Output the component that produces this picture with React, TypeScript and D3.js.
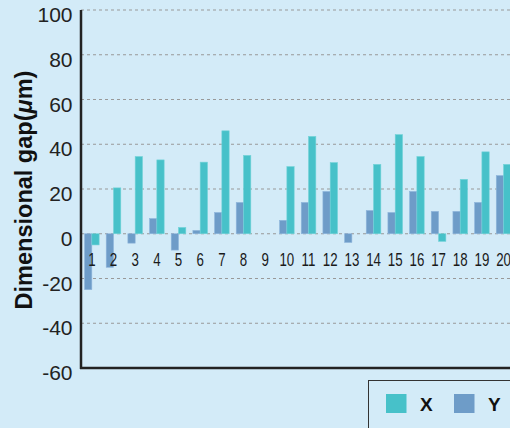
import React from "react";
import * as d3 from "d3";

// chart data
const categories = ["1","2","3","4","5","6","7","8","9","10","11","12","13","14","15","16","17","18","19","20"];
const xValues = [-5, 20.5, 34.5, 33, 2.8, 32, 46, 35, 0, 30, 43.5, 31.8, 0, 31, 44.3, 34.5, -3.4, 24.3, 36.6, 31];
const yValues = [-25, -15, -4.2, 6.8, -7.3, 1.5, 9.5, 14, 0, 6, 14, 18.9, -3.9, 10.4, 9.5, 18.9, 10, 10, 14, 26];
const yTicks = [100, 80, 60, 40, 20, 0, -20, -40, -60];
const seriesNames = ["X", "Y"];

const W = 510;
const H = 428;
const BG = "#d3ebf8";
const TEAL = "#47c1c9";
const BLUE = "#6e9cc8";
const FONT = "'Liberation Sans', Arial, Helvetica, sans-serif";

export default function App() {
  const left = 81;
  const top = 10;
  const bottom = 368;

  const yScale = d3.scaleLinear().domain([-60, 100]).range([bottom, top]);
  const xScale = d3.scaleBand().domain(categories).range([left, left + 21.67 * 20]).paddingInner(0).paddingOuter(0);
  const barW = 7.3;

  const bars = categories.map((c, i) => {
    const cx = (xScale(c) as number) + xScale.bandwidth() / 2;
    const y0 = yScale(0);
    const yv = yValues[i];
    const xv = xValues[i];
    return (
      <g key={c}>
        {yv !== 0 && (
          <rect x={cx - barW} y={Math.min(y0, yScale(yv))} width={barW} height={Math.abs(yScale(yv) - y0)}
            fill={BLUE} stroke="#8fb6dc" strokeWidth={0.6} />
        )}
        {xv !== 0 && (
          <rect x={cx} y={Math.min(y0, yScale(xv))} width={barW} height={Math.abs(yScale(xv) - y0)}
            fill={TEAL} stroke="#72d3d8" strokeWidth={0.6} />
        )}
        <text transform={`translate(${cx},265.5) scale(0.74,1)`} textAnchor="middle" fontSize={18} fill="#1a1a1a" fontFamily={FONT}>{c}</text>
      </g>
    );
  });

  return (
    <svg width={W} height={H} style={{ position: "absolute", left: 0, top: 0, display: "block" }}>
      <rect width={W} height={H} fill={BG} />
      {/* grid */}
      {yTicks.filter((t) => t !== -60).map((t) => (
        <line key={t} x1={left} x2={W} y1={yScale(t)} y2={yScale(t)} stroke="#999" strokeWidth={1} strokeDasharray="3,3" />
      ))}
      {/* tick labels */}
      {yTicks.map((t) => (
        <text key={t} x={72.5} y={yScale(t) + 12} textAnchor="end" fontSize={21} fill="#222" fontFamily={FONT}>{t}</text>
      ))}
      {bars}
      {/* axes */}
      <line x1={left} x2={left} y1={top} y2={bottom + 1} stroke="#222" strokeWidth={2.5} />
      <line x1={left - 1} x2={W} y1={bottom} y2={bottom} stroke="#222" strokeWidth={2.5} />
      <text transform={`translate(32,190) rotate(-90)`} textAnchor="middle" fontSize={23.5} fontWeight="bold" fill="#111" fontFamily={FONT}>
        Dimensional gap(<tspan fontStyle="italic">μ</tspan>m)
      </text>
      {/* legend */}
      <rect x={368.5} y={380.5} width={160} height={60} fill="none" stroke="#333" strokeWidth={1} />
      {seriesNames.map((s, i) => (
        <g key={s} transform={`translate(${386 + i * 68},394)`}>
          <rect width={20.5} height={19} fill={i === 0 ? TEAL : BLUE} />
          <text x={34} y={16.5} fontSize={19} fontWeight="bold" fill="#111" fontFamily={FONT}>{s}</text>
        </g>
      ))}
    </svg>
  );
}
